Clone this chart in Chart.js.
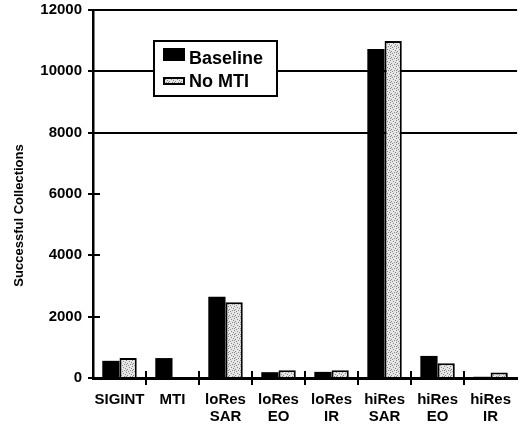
<!DOCTYPE html>
<html>
<head>
<meta charset="utf-8">
<title>Successful Collections</title>
<script src="https://cdn.jsdelivr.net/npm/chart.js@4/dist/chart.umd.min.js"></script>
<style>
  html, body { margin: 0; padding: 0; background: #fff; }
  #wrap { position: relative; width: 524px; height: 427px; }
</style>
</head>
<body>
<div id="wrap"><canvas id="chart" width="524" height="427"></canvas></div>
<script>
// Collections per sensor, with and without the MTI platform.
const categories = ['SIGINT', 'MTI', ['loRes', 'SAR'], ['loRes', 'EO'], ['loRes', 'IR'], ['hiRes', 'SAR'], ['hiRes', 'EO'], ['hiRes', 'IR']];
const baseline = [560, 650, 2650, 190, 200, 10730, 720, 40];
const noMti = [650, 0, 2470, 250, 250, 10990, 480, 180];
const yTicks = [0, 2000, 4000, 6000, 8000, 10000, 12000];
const seriesNames = ['Baseline', 'No MTI'];
const yTitle = 'Successful Collections';

const FONT = '"Liberation Sans", Arial, Helvetica, sans-serif';

// light stipple fill for the second series
function stipple() {
  const c = document.createElement('canvas');
  c.width = 6; c.height = 6;
  const g = c.getContext('2d');
  g.fillStyle = '#e6e6e6';
  g.fillRect(0, 0, 6, 6);
  g.fillStyle = '#888';
  [[0, 0], [3, 1], [5, 2], [1, 3], [4, 4], [2, 5], [0, 4]].forEach(([x, y]) => g.fillRect(x, y, 1, 1));
  return g.createPattern(c, 'repeat');
}
const dots = stipple();

// axis title, ticks crossing the axes, and the boxed legend
const decorations = {
  id: 'decorations',
  afterDatasetsDraw(chart) {
    const { ctx, chartArea: a, scales: { x, y } } = chart;
    ctx.save();
    ctx.strokeStyle = '#000';
    ctx.lineWidth = 2;
    ctx.beginPath();
    for (let i = 0; i < categories.length - 1; i++) {
      const px = Math.round(x.getPixelForValue(i + 0.5));
      ctx.moveTo(px, a.bottom - 7);
      ctx.lineTo(px, a.bottom + 7);
    }
    yTicks.forEach((v) => {
      const py = Math.round(y.getPixelForValue(v));
      ctx.moveTo(a.left, py);
      ctx.lineTo(a.left + 7, py);
    });
    ctx.stroke();

    // y title, sitting a little below the middle of the axis
    ctx.fillStyle = '#000';
    ctx.font = 'bold 13px ' + FONT;
    ctx.textAlign = 'center';
    ctx.textBaseline = 'middle';
    ctx.translate(19, y.getPixelForValue(5300));
    ctx.rotate(-Math.PI / 2);
    ctx.fillText(yTitle, 0, 0);
    ctx.setTransform(1, 0, 0, 1, 0, 0);

    // legend box
    const lx = a.left + 61, ly = a.top + 31, lw = 123, lh = 55;
    ctx.fillStyle = '#fff';
    ctx.fillRect(lx, ly, lw, lh);
    ctx.lineWidth = 2;
    ctx.strokeRect(lx, ly, lw, lh);

    ctx.fillStyle = '#000';
    ctx.fillRect(lx + 9, ly + 7, 22, 13);
    ctx.fillStyle = dots;
    ctx.fillRect(lx + 9, ly + 36, 22, 8);
    ctx.strokeRect(lx + 10, ly + 37, 20, 6);

    ctx.fillStyle = '#000';
    ctx.font = 'bold 18px ' + FONT;
    ctx.textBaseline = 'middle';
    ctx.textAlign = 'left';
    ctx.fillText(seriesNames[0], lx + 35, ly + 18);
    ctx.fillText(seriesNames[1], lx + 35, ly + 41);
    ctx.restore();
  }
};

new Chart(document.getElementById('chart'), {
  type: 'bar',
  data: {
    labels: categories,
    datasets: [
      { label: seriesNames[0], data: baseline, backgroundColor: '#000', borderWidth: 0 },
      { label: seriesNames[1], data: noMti, backgroundColor: dots, borderColor: '#000', borderWidth: 2, borderSkipped: 'start' }
    ]
  },
  options: {
    responsive: false,
    animation: false,
    events: [],
    layout: { padding: { left: 0, right: 0, top: 10, bottom: 0 } },
    datasets: { bar: { categoryPercentage: 0.65, barPercentage: 1.0 } },
    plugins: { legend: { display: false }, tooltip: { enabled: false } },
    scales: {
      x: {
        offset: true,
        afterFit: (s) => { s.height = 49; },
        grid: { display: true, drawOnChartArea: false, drawTicks: false },
        border: { display: true, color: '#000', width: 3 },
        ticks: {
          color: '#000', maxRotation: 0, autoSkip: false, padding: 13,
          font: { family: FONT, size: 15, weight: 'bold', lineHeight: 1.13 }
        }
      },
      y: {
        min: 0, max: 12000,
        afterBuildTicks: (s) => { s.ticks = yTicks.map((v) => ({ value: v })); },
        afterFit: (s) => { s.width = 93; s.paddingTop = 0; s.paddingBottom = 0; },
        grid: {
          color: (c) => (c.tick && c.tick.value >= 8000 ? '#000' : 'rgba(0,0,0,0)'),
          tickColor: '#000', lineWidth: 2, tickLength: 5
        },
        border: { display: true, color: '#000', width: 2.5 },
        ticks: {
          color: '#000', padding: 6,
          callback: (v) => String(v),
          font: { family: FONT, size: 15, weight: 'bold' }
        }
      }
    }
  },
  plugins: [decorations]
});
</script>
</body>
</html>
